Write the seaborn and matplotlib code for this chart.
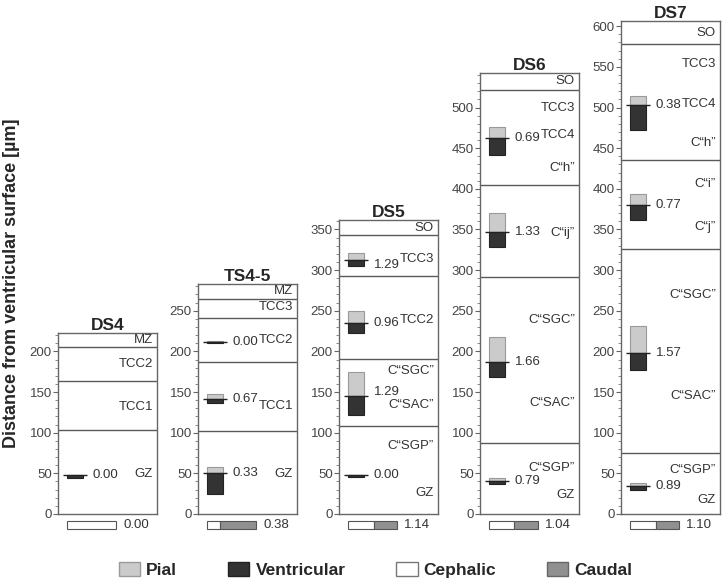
import numpy as np
import matplotlib
matplotlib.use("Agg")
import matplotlib.pyplot as plt
from matplotlib.patches import Patch
from matplotlib.ticker import MultipleLocator
import seaborn as sns

# Style
sns.set_style("ticks")
plt.rcParams["font.family"] = ["Liberation Sans", "DejaVu Sans"]

# Data
panels = ["DS4", "TS4-5", "DS5", "DS6", "DS7"]
y_tops = [223, 283, 362, 542, 607]

zone_lines = [
    [103, 164, 205],
    [102, 187, 241, 265],
    [108, 191, 293, 343],
    [87, 292, 405, 521.5],
    [75, 326, 435, 578],
]
zone_names = [
    ["MZ", "TCC2", "TCC1", "GZ"],
    ["MZ", "TCC3", "TCC2", "TCC1", "GZ"],
    ["SO", "TCC3", "TCC2", "C“SGC”", "C“SAC”", "C“SGP”", "GZ"],
    ["SO", "TCC3", "TCC4", "C“h”", "C“ij”", "C“SGC”", "C“SAC”", "C“SGP”", "GZ"],
    ["SO", "TCC3", "TCC4", "C“h”", "C“i”", "C“j”", "C“SGC”", "C“SAC”", "C“SGP”", "GZ"],
]
zone_name_y = [
    [214, 184, 132, 49],
    [274, 255, 214, 133, 49],
    [352, 314, 239, 176, 134, 84, 26],
    [532, 499, 466, 426, 346, 239, 137, 57, 23],
    [592, 554, 504, 456, 406, 353, 269, 145, 54, 17],
]

# boundary between ventricular (below) and pial (above) part of each bar
bar_center = [
    [48],
    [50, 142, 212],
    [48, 145, 235.5, 312],
    [41, 187.5, 346.5, 462.5],
    [34.5, 197.5, 380, 502.5],
]
pial_top = [
    [48.5],
    [58, 148, 213],
    [48.5, 175, 249.5, 321],
    [44, 218, 370.5, 476.5],
    [38.5, 231, 393, 514],
]
vent_bottom = [
    [44],
    [25, 137, 210.5],
    [46, 122, 222.5, 305],
    [37, 169, 328, 441.5],
    [30, 177, 361.5, 472],
]
bar_ratio = [
    ["0.00"],
    ["0.33", "0.67", "0.00"],
    ["0.00", "1.29", "0.96", "1.29"],
    ["0.79", "1.66", "1.33", "0.69"],
    ["0.89", "1.57", "0.77", "0.38"],
]
# small vertical nudges of the ratio labels
bar_ratio_shift = [
    [0],
    [0, 0, 0],
    [0, 5, 0, -6],
    [0, 0, 0, 0],
    [0, 0, 0, 0],
]

# cephalic / caudal share of the bottom bars
cephalic_share = [1.0, 0.27, 0.53, 0.51, 0.52]
ceph_caudal_ratio = ["0.00", "0.38", "1.14", "1.04", "1.10"]

pial_color = "#cbcbcb"
vent_color = "#333333"
caudal_color = "#909090"
line_color = "#5a5a5a"

fig = plt.figure(figsize=(7.22, 5.83), dpi=100)

W, H = 722, 583
px_per_unit = 0.813
lefts = [58, 198, 339, 480, 621]

for i, name in enumerate(panels):
    h = y_tops[i] * px_per_unit
    ax = fig.add_axes([lefts[i] / W, 69 / H, 99 / W, h / H])
    ax.set_xlim(0, 1)
    ax.set_ylim(0, y_tops[i])

    for v in zone_lines[i]:
        ax.axhline(v, color=line_color, lw=1)

    for txt, yv in zip(zone_names[i], zone_name_y[i]):
        ax.text(0.96, yv, txt, ha="right", va="center", fontsize=9.5, color="#333333")

    c = np.array(bar_center[i])
    top = np.array(pial_top[i])
    bot = np.array(vent_bottom[i])
    ax.bar(np.full(len(c), 0.17), top - c, bottom=c, width=0.16,
           color=pial_color, edgecolor="#9a9a9a", lw=0.8)
    ax.bar(np.full(len(c), 0.17), c - bot, bottom=bot, width=0.16,
           color=vent_color, edgecolor="#222222", lw=0.8)
    ax.hlines(c, 0.05, 0.29, color="#222222", lw=1)
    for cv, lab, sh in zip(c, bar_ratio[i], bar_ratio_shift[i]):
        ax.text(0.35, cv + sh, lab, ha="left", va="center", fontsize=9.5, color="#333333")

    # cephalic / caudal bar under each panel
    share = cephalic_share[i]
    ax.barh(-13.5, 0.5 * share, left=0.09, height=11, color="white",
            edgecolor="#555555", lw=0.8, clip_on=False)
    if share < 1:
        ax.barh(-13.5, 0.5 * (1 - share), left=0.09 + 0.5 * share, height=11,
                color=caudal_color, edgecolor="#555555", lw=0.8, clip_on=False)
    ax.text(0.66, -13.5, ceph_caudal_ratio[i], ha="left", va="center",
            fontsize=9.5, color="#333333", clip_on=False)
    ax.set_ylim(0, y_tops[i])

    ax.set_title(name, fontsize=12.5, fontweight="bold", pad=2)
    ax.set_xticks([])
    ax.yaxis.set_major_locator(MultipleLocator(50))
    ax.yaxis.set_minor_locator(MultipleLocator(10))
    ax.tick_params(axis="y", which="major", length=3.5, width=0.8, color="#666666",
                   labelsize=9.5, labelcolor="#444444", pad=1)
    ax.tick_params(axis="y", which="minor", length=2, width=0.6, color="#777777")
    for s in ax.spines.values():
        s.set_color("#666666")
        s.set_linewidth(1)

fig.text(12 / W, 0.515, "Distance from ventricular surface [µm]", rotation=90,
         ha="center", va="center", fontsize=13, fontweight="bold")

handles = [
    Patch(facecolor=pial_color, edgecolor="#9a9a9a"),
    Patch(facecolor=vent_color, edgecolor="#222222"),
    Patch(facecolor="white", edgecolor="#777777"),
    Patch(facecolor=caudal_color, edgecolor="#666666"),
]
fig.legend(handles, ["Pial", "Ventricular", "Cephalic", "Caudal"], ncol=4,
           loc="center", bbox_to_anchor=(0.52, 0.022), frameon=False,
           prop={"weight": "bold", "size": 12.5}, handlelength=1.25,
           handleheight=0.9, handletextpad=0.35, columnspacing=2.9)

fig.savefig("out.png", dpi=100)
